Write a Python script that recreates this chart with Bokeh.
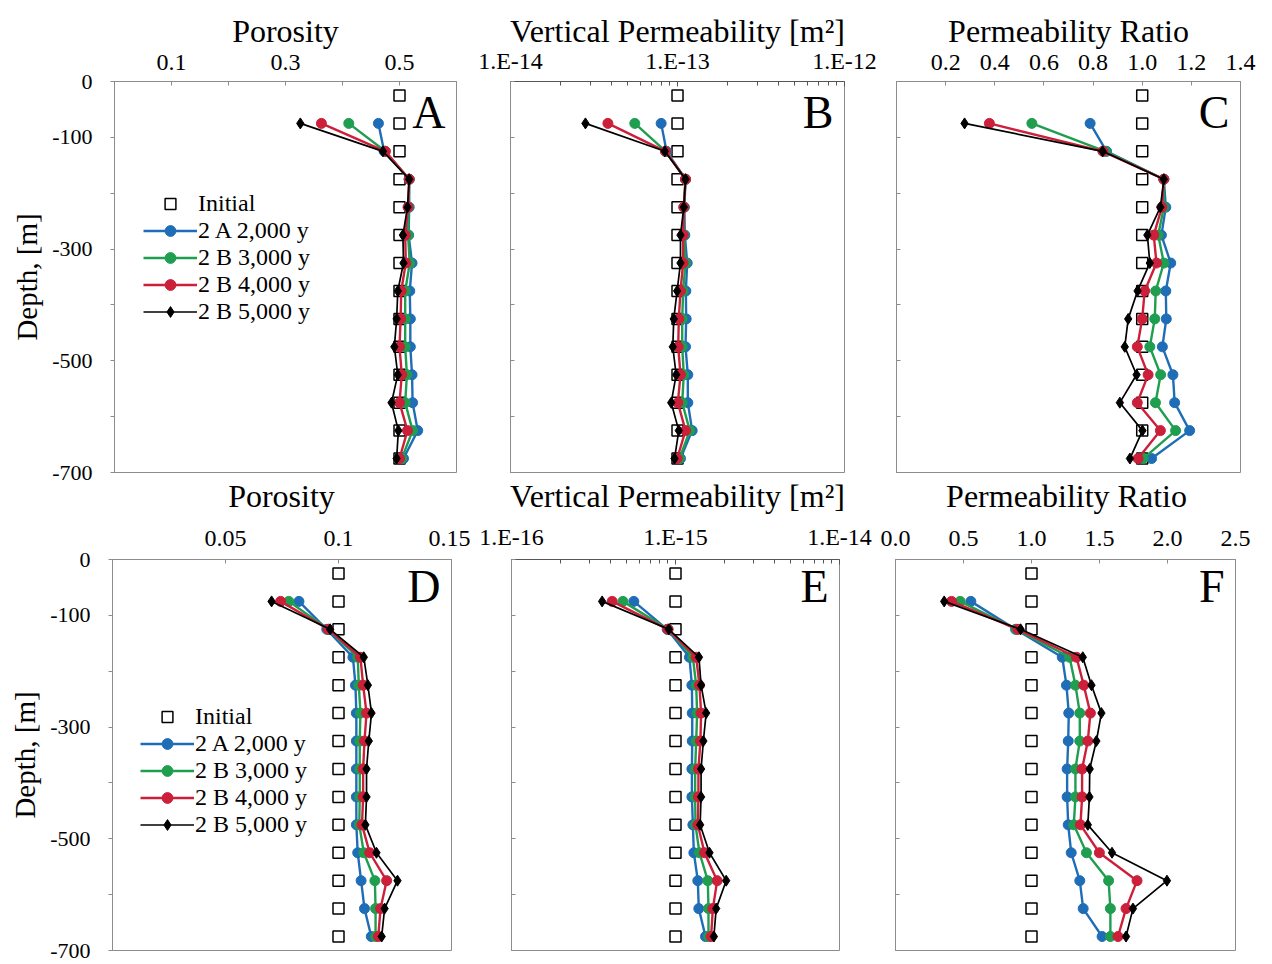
import json
import math
from bokeh.plotting import figure
from bokeh.layouts import column, row
from bokeh.models import Range1d, FixedTicker, CustomJSTickFormatter, Label, Legend, LegendItem
from bokeh.embed import file_html
from bokeh.resources import INLINE

FONT = "Liberation Serif"

# ---------------- data ----------------
depth_initial = [-25, -75, -125, -175, -225, -275, -325, -375, -425, -475, -525, -575, -625, -675]
depth = [-75, -125, -175, -225, -275, -325, -375, -425, -475, -525, -575, -625, -675]
series_labels = ["2 A 2,000 y", "2 B 3,000 y", "2 B 4,000 y", "2 B 5,000 y"]
initial_label = "Initial"

# A: porosity (case 1)
init_A = [0.5] * 14
A_2A_2000 = [0.463, 0.473, 0.517, 0.517, 0.516, 0.522, 0.518, 0.519, 0.519, 0.522, 0.523, 0.532, 0.507]
A_2B_3000 = [0.411, 0.475, 0.517, 0.516, 0.515, 0.518, 0.510, 0.510, 0.510, 0.513, 0.510, 0.523, 0.504]
A_2B_4000 = [0.363, 0.475, 0.517, 0.515, 0.510, 0.511, 0.503, 0.502, 0.500, 0.504, 0.500, 0.514, 0.500]
A_2B_5000 = [0.326, 0.471, 0.517, 0.514, 0.506, 0.507, 0.497, 0.495, 0.491, 0.497, 0.486, 0.498, 0.495]

# B: vertical permeability (case 1)
init_B = [1e-13] * 14
B_2A_2000 = [7.98e-14, 8.6e-14, 1.117e-13, 1.10e-13, 1.106e-13, 1.143e-13, 1.122e-13, 1.127e-13, 1.117e-13, 1.153e-13, 1.153e-13, 1.224e-13, 1.042e-13]
B_2B_3000 = [5.55e-14, 8.5e-14, 1.117e-13, 1.091e-13, 1.091e-13, 1.117e-13, 1.081e-13, 1.067e-13, 1.067e-13, 1.091e-13, 1.067e-13, 1.185e-13, 1.028e-13]
B_2B_4000 = [3.83e-14, 8.47e-14, 1.117e-13, 1.091e-13, 1.081e-13, 1.081e-13, 1.042e-13, 1.018e-13, 1.01e-13, 1.042e-13, 1.005e-13, 1.117e-13, 9.95e-14]
B_2B_5000 = [2.81e-14, 8.4e-14, 1.117e-13, 1.091e-13, 1.042e-13, 1.042e-13, 9.95e-14, 9.5e-14, 9.37e-14, 9.82e-14, 9.17e-14, 1.018e-13, 9.6e-14]

# C: permeability ratio (case 1)
init_C = [1.0] * 14
C_2A_2000 = [0.788, 0.855, 1.088, 1.096, 1.078, 1.116, 1.096, 1.098, 1.082, 1.125, 1.132, 1.193, 1.038]
C_2B_3000 = [0.551, 0.850, 1.088, 1.088, 1.065, 1.088, 1.055, 1.051, 1.031, 1.075, 1.054, 1.136, 1.004]
C_2B_4000 = [0.378, 0.840, 1.088, 1.080, 1.047, 1.058, 1.010, 1.000, 0.980, 1.024, 0.980, 1.074, 0.983]
C_2B_5000 = [0.277, 0.839, 1.088, 1.074, 1.021, 1.031, 0.981, 0.943, 0.929, 0.977, 0.909, 1.001, 0.950]

# D: porosity (case 2)
init_D = [0.1] * 14
D_2A_2000 = [0.0825, 0.0948, 0.1064, 0.1075, 0.1079, 0.1079, 0.1079, 0.1079, 0.1079, 0.1085, 0.1100, 0.1115, 0.1145]
D_2B_3000 = [0.0780, 0.0955, 0.1085, 0.1090, 0.1097, 0.1094, 0.1094, 0.1094, 0.1092, 0.1112, 0.1161, 0.1164, 0.1164]
D_2B_4000 = [0.0744, 0.0955, 0.1097, 0.1109, 0.1124, 0.1115, 0.1109, 0.1109, 0.1104, 0.1138, 0.1213, 0.1186, 0.1176]
D_2B_5000 = [0.0704, 0.0963, 0.1112, 0.1130, 0.1146, 0.1134, 0.1124, 0.1124, 0.1119, 0.1168, 0.1261, 0.1204, 0.1191]

# E: vertical permeability (case 2)
init_E = [1e-15] * 14
E_2A_2000 = [5.57e-16, 8.9e-16, 1.216e-15, 1.259e-15, 1.265e-15, 1.265e-15, 1.259e-15, 1.259e-15, 1.276e-15, 1.294e-15, 1.368e-15, 1.387e-15, 1.524e-15]
E_2B_3000 = [4.78e-16, 9.0e-16, 1.276e-15, 1.337e-15, 1.355e-15, 1.337e-15, 1.318e-15, 1.318e-15, 1.324e-15, 1.400e-15, 1.574e-15, 1.589e-15, 1.589e-15]
E_2B_4000 = [4.11e-16, 9.0e-16, 1.337e-15, 1.400e-15, 1.432e-15, 1.419e-15, 1.380e-15, 1.380e-15, 1.368e-15, 1.503e-15, 1.795e-15, 1.690e-15, 1.648e-15]
E_2B_5000 = [3.57e-16, 9.1e-16, 1.390e-15, 1.432e-15, 1.538e-15, 1.479e-15, 1.432e-15, 1.432e-15, 1.413e-15, 1.611e-15, 2.037e-15, 1.770e-15, 1.714e-15]

# F: permeability ratio (case 2)
init_F = [1.0] * 14
F_2A_2000 = [0.554, 0.883, 1.226, 1.257, 1.274, 1.270, 1.262, 1.262, 1.270, 1.292, 1.355, 1.380, 1.519]
F_2B_3000 = [0.475, 0.890, 1.280, 1.323, 1.355, 1.355, 1.323, 1.323, 1.311, 1.404, 1.567, 1.580, 1.580]
F_2B_4000 = [0.412, 0.900, 1.331, 1.384, 1.433, 1.414, 1.372, 1.372, 1.360, 1.499, 1.776, 1.695, 1.636]
F_2B_5000 = [0.358, 0.920, 1.377, 1.441, 1.514, 1.477, 1.428, 1.426, 1.414, 1.592, 1.996, 1.746, 1.695]

# axis ticks / labels
depth_ticks = [0, -100, -200, -300, -400, -500, -600, -700]
depth_tick_labels = ["0", "-100", "", "-300", "", "-500", "", "-700"]
ticks_A = [0, 0.1, 0.2, 0.3, 0.4, 0.5, 0.6]
labels_A = ["", "0.1", "", "0.3", "", "0.5", ""]
ticks_B = [1e-14, 1e-13, 1e-12]
labels_B = ["1.E-14", "1.E-13", "1.E-12"]
ticks_C = [0, 0.2, 0.4, 0.6, 0.8, 1.0, 1.2, 1.4]
labels_C = ["", "0.2", "0.4", "0.6", "0.8", "1.0", "1.2", "1.4"]
ticks_D = [0, 0.05, 0.1, 0.15]
labels_D = ["", "0.05", "0.1", "0.15"]
ticks_E = [1e-16, 1e-15, 1e-14]
labels_E = ["1.E-16", "1.E-15", "1.E-14"]
ticks_F = [0, 0.5, 1.0, 1.5, 2.0, 2.5]
labels_F = ["0.0", "0.5", "1.0", "1.5", "2.0", "2.5"]

title_por = "Porosity"
title_perm = "Vertical Permeability [m²]"
title_ratio = "Permeability Ratio"

COLORS = ["#1f6db6", "#1f9e4f", "#cc1f3a", "#000000"]
MARKERS = ["circle", "circle", "circle", "diamond"]
GRAY = "#8c8c8c"


def fmt(ticks, labels, log=False):
    f = "Math.log10" if log else ""
    code = (
        "const t=%s; const l=%s; let b=0;"
        "for (let i=0;i<t.length;i++){ if (Math.abs(%s(t[i])-%s(tick)) < Math.abs(%s(t[b])-%s(tick))) b=i; }"
        "return l[b];" % (json.dumps(ticks), json.dumps(labels), f, f, f, f)
    )
    return CustomJSTickFormatter(code=code)


def minor_log(ticks):
    out = []
    for t in ticks[:-1]:
        out += [t * k for k in range(2, 10)]
    return out


def title_label(xr, log, text, y, y_offset, x_offset=0):
    xmid = math.sqrt(xr[0] * xr[1]) if log else (xr[0] + xr[1]) / 2
    return Label(x=xmid, y=y, x_offset=x_offset, y_offset=y_offset, text=text,
                 text_align="center", text_baseline="middle", text_font=FONT,
                 text_font_size="32px", text_color="black")


def panel(xr, ticks, labels, init, series, letter, borders, frame, offs, log=False,
          depth_axis=False, title="", legend_loc=None, below_title=None):
    bl, br, bt, bb = borders
    fw, fh = frame
    label_standoff, title_offset, letter_offset = offs
    p = figure(width=bl + fw + br, height=bt + fh + bb,
               x_range=Range1d(*xr), y_range=Range1d(-700, 0),
               x_axis_type="log" if log else "linear", x_axis_location="above",
               output_backend="svg", toolbar_location=None,
               min_border_left=bl, min_border_right=br, min_border_top=bt, min_border_bottom=bb)
    p.grid.visible = False
    p.outline_line_color = GRAY
    p.outline_line_width = 1
    p.background_fill_color = "white"
    p.border_fill_color = "white"

    xa = p.xaxis[0]
    xa.ticker = FixedTicker(ticks=ticks, minor_ticks=minor_log(ticks) if log else [])
    xa.formatter = fmt(ticks, labels, log)
    xa.major_label_text_font = FONT
    xa.major_label_text_font_size = "24px"
    xa.major_label_text_color = "black"
    xa.axis_line_color = "#555555" if log else GRAY
    xa.major_tick_line_color = "#555555" if log else GRAY
    xa.minor_tick_line_color = "#555555"
    xa.major_tick_in = 5 if log else 4
    xa.major_tick_out = 0
    xa.minor_tick_in = 4
    xa.minor_tick_out = 0
    xa.major_label_standoff = label_standoff - (4 if log else 0)

    ya = p.yaxis[0]
    ya.ticker = FixedTicker(ticks=depth_ticks, minor_ticks=[])
    ya.axis_line_color = GRAY
    ya.major_tick_line_color = GRAY
    if depth_axis:
        ya.formatter = fmt(depth_ticks, depth_tick_labels)
        ya.major_label_text_font = FONT
        ya.major_label_text_font_size = "22px"
        ya.major_label_text_color = "black"
        ya.major_tick_in = 0
        ya.major_tick_out = 4
        ya.major_label_standoff = 18
        ya.axis_label = "Depth, [m]"
        ya.axis_label_text_font = FONT
        ya.axis_label_text_font_size = "29px"
        ya.axis_label_text_font_style = "normal"
        ya.axis_label_text_color = "black"
        ya.axis_label_standoff = 6
    else:
        ya.formatter = CustomJSTickFormatter(code="return '';")
        ya.major_label_text_font_size = "1px"
        ya.major_tick_in = 4
        ya.major_tick_out = 0
        ya.major_label_standoff = 0

    r_init = p.scatter(init, depth_initial, marker="square", size=11, fill_color="white",
                       line_color="black", line_width=1.5)
    items = [LegendItem(label=initial_label, renderers=[r_init])]
    for vals, lab, c, m in zip(series, series_labels, COLORS, MARKERS):
        lw = 1.7 if c == "#000000" else 2.4
        rl = p.line(vals, depth, line_color=c, line_width=lw)
        rs = p.scatter(vals, depth, marker=m, size=11 if m == "diamond" else 10,
                       fill_color=c, line_color=c)
        items.append(LegendItem(label=lab, renderers=[rl, rs]))

    if legend_loc is not None:
        lg = Legend(items=items, location=legend_loc, orientation="vertical")
        lg.label_text_font = FONT
        lg.label_text_font_size = "24px"
        lg.label_text_color = "black"
        lg.glyph_width = 54
        lg.glyph_height = 27
        lg.label_height = 27
        lg.label_standoff = 1
        lg.spacing = 0
        lg.padding = 0
        lg.margin = 0
        lg.border_line_color = None
        lg.background_fill_alpha = 0
        p.add_layout(lg)

    # panel letter
    p.add_layout(Label(x=xr[1], y=0, x_offset=-11, y_offset=letter_offset, text=letter,
                       text_align="right", text_baseline="top", text_font=FONT,
                       text_font_size="46px", text_color="black"))
    # panel title in the space above the top axis
    if title:
        p.add_layout(title_label(xr, log, title, 0, title_offset), "above")
    # title of the panel underneath (drawn in this canvas' bottom border)
    if below_title is not None:
        text, yoff, xoff = below_title
        p.add_layout(title_label(xr, log, text, -700, yoff, xoff), "below")
    return p


TOP = (81, 42)      # top / bottom border of first row
BOT = (45, 13)      # top / bottom border of second row
H1, H2 = 391, 391   # frame heights
O1 = (12, 51, -5)   # tick-label standoff, title offset, letter offset (row 1)
O2 = (14, 0, -1)    # (row 2)
BT_OFF = -23        # offset of the second-row titles below the first-row frames

pA = panel((0, 0.6), ticks_A, labels_A, init_A, [A_2A_2000, A_2B_3000, A_2B_4000, A_2B_5000], "A",
           (114, 14) + TOP, (342, H1), O1, depth_axis=True, title=title_por, legend_loc=(29, 147),
           below_title=(title_por, BT_OFF, -4))
pB = panel((1e-14, 1e-12), ticks_B, labels_B, init_B, [B_2A_2000, B_2B_3000, B_2B_4000, B_2B_5000], "B",
           (40, 36) + TOP, (334, H1), O1, log=True, title=title_perm,
           below_title=(title_perm, BT_OFF, 0))
pC = panel((0, 1.4), ticks_C, labels_C, init_C, [C_2A_2000, C_2B_3000, C_2B_4000, C_2B_5000], "C",
           (16, 20) + TOP, (344, H1), O1, title=title_ratio,
           below_title=(title_ratio, BT_OFF, -2))
pD = panel((0, 0.15), ticks_D, labels_D, init_D, [D_2A_2000, D_2B_3000, D_2B_4000, D_2B_5000], "D",
           (112, 19) + BOT, (339, H2), O2, depth_axis=True, legend_loc=(28, 112))
pE = panel((1e-16, 1e-14), ticks_E, labels_E, init_E, [E_2A_2000, E_2B_3000, E_2B_4000, E_2B_5000], "E",
           (41, 41) + BOT, (328, H2), O2, log=True)
pF = panel((0, 2.5), ticks_F, labels_F, init_F, [F_2A_2000, F_2B_3000, F_2B_4000, F_2B_5000], "F",
           (15, 25) + BOT, (340, H2), O2)

layout = column(row(pA, pB, pC, spacing=0), row(pD, pE, pF, spacing=0), spacing=0)
open("out.html", "w").write(file_html(layout, INLINE))
